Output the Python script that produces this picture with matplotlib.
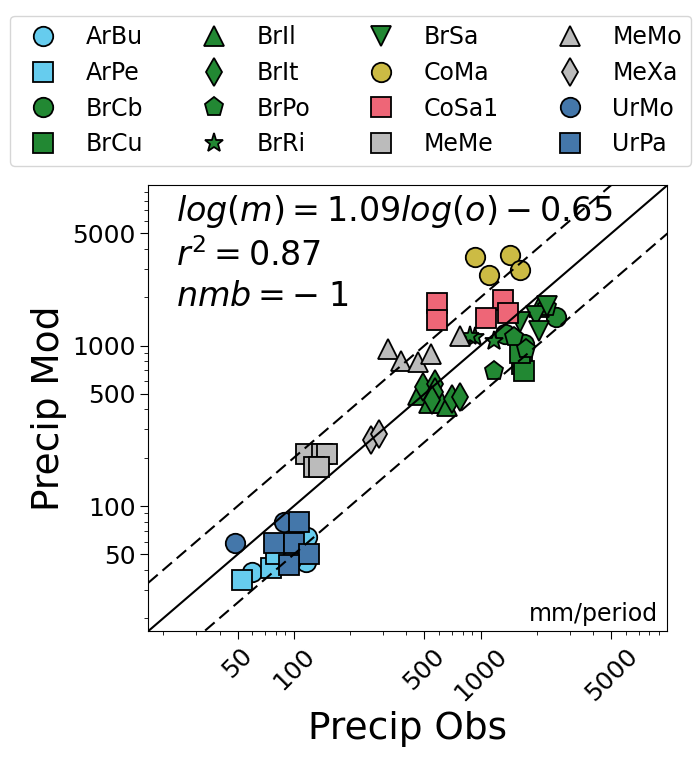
import matplotlib
matplotlib.use("Agg")
import matplotlib.pyplot as plt
from matplotlib.lines import Line2D

# sites, in legend order
sites = ["ArBu", "ArPe", "BrCb", "BrCu", "BrIl", "BrIt", "BrPo", "BrRi",
         "BrSa", "CoMa", "CoSa1", "MeMe", "MeMo", "MeXa", "UrMo", "UrPa"]
markers = ["o", "s", "o", "s", "^", "d", "p", "*",
           "v", "o", "s", "s", "^", "d", "o", "s"]
colors = ["#66CCEE", "#66CCEE", "#228833", "#228833", "#228833", "#228833",
          "#228833", "#228833", "#228833", "#CCBB44", "#EE6677", "#BBBBBB",
          "#BBBBBB", "#BBBBBB", "#4477AA", "#4477AA"]

obs = [
    [60, 118, 116],                      # ArBu
    [53, 75, 80],                        # ArPe
    [2520, 1355, 1700],                  # BrCb
    [1666, 1700, 1630],                  # BrCu
    [464, 526, 618, 660, 2050],          # BrIl
    [492, 569, 569, 700, 776, 546],      # BrIt
    [2275, 1503, 1738, 1175],            # BrPo
    [934, 1175, 874],                    # BrRi
    [1968, 2053, 1630, 2275],            # BrSa
    [933, 1442, 1104, 1633],             # CoMa
    [587, 587, 1312, 1067, 1402],        # CoSa1
    [116, 142, 151, 128, 137],           # MeMe
    [319, 376, 462, 545, 775],           # MeMo
    [259, 287],                          # MeXa
    [48.5, 88, 96],                      # UrMo
    [106, 78, 100, 120, 94],             # UrPa
]
mod = [
    [39, 64, 45],
    [34.7, 41, 50],
    [1500, 1182, 1025],
    [770, 699, 905],
    [489, 440, 437, 420, 1750],
    [551, 578, 513, 467, 478, 455],
    [1730, 1126, 954, 699],
    [1126, 1074, 1154],
    [1535, 1239, 1396, 1772],
    [3573, 3673, 2761, 2965],
    [1832, 1445, 1923, 1486, 1588],
    [212, 212, 212, 175, 175],
    [954, 807, 788, 888, 1154],
    [257, 283],
    [58.6, 80, 46],
    [80, 58.6, 59, 50, 43],
]

ticks = [50, 100, 500, 1000, 5000]
tick_labels = ["50", "100", "500", "1000", "5000"]
lims = [16.6, 10000]

fig = plt.figure(figsize=(6.96, 7.65), dpi=100)
ax = fig.add_axes([0.213, 0.175, 0.746, 0.583])

handles = []
for i in range(len(sites)):
    ax.plot(obs[i], mod[i], linestyle="none", marker=markers[i], ms=14,
            mfc=colors[i], mec="black", mew=1.3, zorder=2)
    handles.append(Line2D([], [], linestyle="none", marker=markers[i], ms=14,
                          mfc=colors[i], mec="black", mew=1.3, label=sites[i]))

# 1:1 and factor-of-two lines
ax.plot(lims, lims, color="black", lw=1.5, zorder=3)
ax.plot(lims, [v * 2 for v in lims], color="black", lw=1.5,
        dashes=(6, 3), zorder=3)
ax.plot(lims, [v / 2 for v in lims], color="black", lw=1.5,
        dashes=(6, 3), zorder=3)

ax.set_xscale("log")
ax.set_yscale("log")
ax.set_xlim(lims)
ax.set_ylim(lims)
ax.set_xticks(ticks)
ax.set_xticklabels(tick_labels, rotation=45)
ax.set_yticks(ticks)
ax.set_yticklabels(tick_labels)
ax.tick_params(which="major", labelsize=18, length=5.5)
ax.tick_params(which="minor", length=3)

ax.set_xlabel("Precip Obs", fontsize=27)
ax.set_ylabel("Precip Mod", fontsize=27)

ax.text(0.053, 0.982,
        "$log(m) = 1.09log(o) - 0.65$\n$r^2 = 0.87$\n$nmb = -\\;1$",
        transform=ax.transAxes, ha="left", va="top", fontsize=24,
        linespacing=1.28)
ax.text(0.982, 0.012, "mm/period", transform=ax.transAxes,
        ha="right", va="bottom", fontsize=17)

fig.legend(handles=handles, ncol=4, loc="upper center",
           bbox_to_anchor=(0.504, 0.995), fontsize=17,
           labelspacing=0.5, columnspacing=2.0)

fig.savefig("out.png", dpi=100)
